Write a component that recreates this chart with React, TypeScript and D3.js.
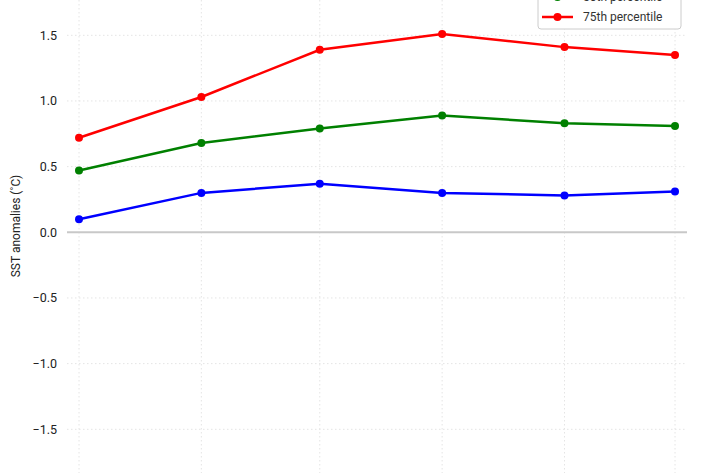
import React from "react";
import * as d3 from "d3";

const dates = ["2022-10-01", "2022-11-01", "2022-12-01", "2023-01-01", "2023-02-01", "2023-03-01"];
const p25 = [0.1, 0.3, 0.37, 0.3, 0.28, 0.31];
const p50 = [0.47, 0.68, 0.79, 0.89, 0.83, 0.81];
const p75 = [0.72, 1.03, 1.39, 1.51, 1.41, 1.35];
const seriesNames = ["25th percentile", "50th percentile", "75th percentile"];
const seriesColors = ["blue", "green", "red"];
const yTicks = [-1.5, -1.0, -0.5, 0.0, 0.5, 1.0, 1.5];

const W = 710;
const H = 473;
const plotLeft = 67;
const plotRight = 687;

export default function App() {
  const parse = d3.utcParse("%Y-%m-%d");
  const xDates = dates.map((d) => parse(d) as Date);
  const x = d3.scaleUtc().domain([xDates[0], xDates[xDates.length - 1]]).range([79, 675]);
  const y = d3.scaleLinear().domain([-1.5, 1.5]).range([429.3, 35.3]);
  const series = [p25, p50, p75];
  const line = d3
    .line<number>()
    .x((_, i) => x(xDates[i]))
    .y((v) => y(v));
  const fmt = (v: number) => d3.format(".1f")(v).replace("-", "\u2212");
  const font = "Roboto, 'Noto Sans', sans-serif";
  const legendX = 538;
  const legendBottom = 29;
  const rowH = 20;

  return (
    <svg width={W} height={H} style={{ position: "absolute", left: 0, top: 0 }} fontFamily={font}>
      <rect width={W} height={H} fill="white" />
      {/* vertical grid */}
      {xDates.map((d, i) => (
        <line key={"vg" + i} x1={x(d)} x2={x(d)} y1={0} y2={H} stroke="#e4e4e4" strokeWidth={1} strokeDasharray="1.5,2.5" />
      ))}
      {/* horizontal grid */}
      {yTicks.map((t, i) =>
        t === 0 ? null : (
          <line key={"hg" + i} x1={plotLeft} x2={plotRight} y1={y(t)} y2={y(t)} stroke="#e4e4e4" strokeWidth={1} strokeDasharray="1.5,2.5" />
        )
      )}
      <line x1={plotLeft} x2={plotRight} y1={y(0)} y2={y(0)} stroke="#c8c8c8" strokeWidth={2} />
      {/* y ticks */}
      {yTicks.map((t, i) => (
        <text key={"yt" + i} x={57} y={y(t)} dy="0.35em" textAnchor="end" fontSize={12.5} fill="#222">
          {fmt(t)}
        </text>
      ))}
      <text transform={`translate(20,226) rotate(-90)`} textAnchor="middle" fontSize={12} fill="#222">
        SST anomalies (˚C)
      </text>
      {/* series */}
      {series.map((s, si) => (
        <g key={"s" + si}>
          <path d={line(s) || ""} fill="none" stroke={seriesColors[si]} strokeWidth={2.5} />
          {s.map((v, i) => (
            <circle key={i} cx={x(xDates[i])} cy={y(v)} r={4} fill={seriesColors[si]} />
          ))}
        </g>
      ))}
      {/* legend */}
      <rect
        x={legendX}
        y={legendBottom - rowH * 3 - 6}
        width={143}
        height={rowH * 3 + 6}
        rx={3}
        fill="white"
        stroke="#cccccc"
        strokeWidth={1}
      />
      {seriesNames.map((n, i) => {
        const cy = legendBottom - 12 - (seriesNames.length - 1 - i) * rowH;
        return (
          <g key={"lg" + i}>
            <line x1={542} x2={573} y1={cy} y2={cy} stroke={seriesColors[i]} strokeWidth={2.5} />
            <circle cx={557.5} cy={cy} r={4} fill={seriesColors[i]} />
            <text x={583} y={cy} dy="0.35em" fontSize={12} fill="#333">
              {n}
            </text>
          </g>
        );
      })}
    </svg>
  );
}
